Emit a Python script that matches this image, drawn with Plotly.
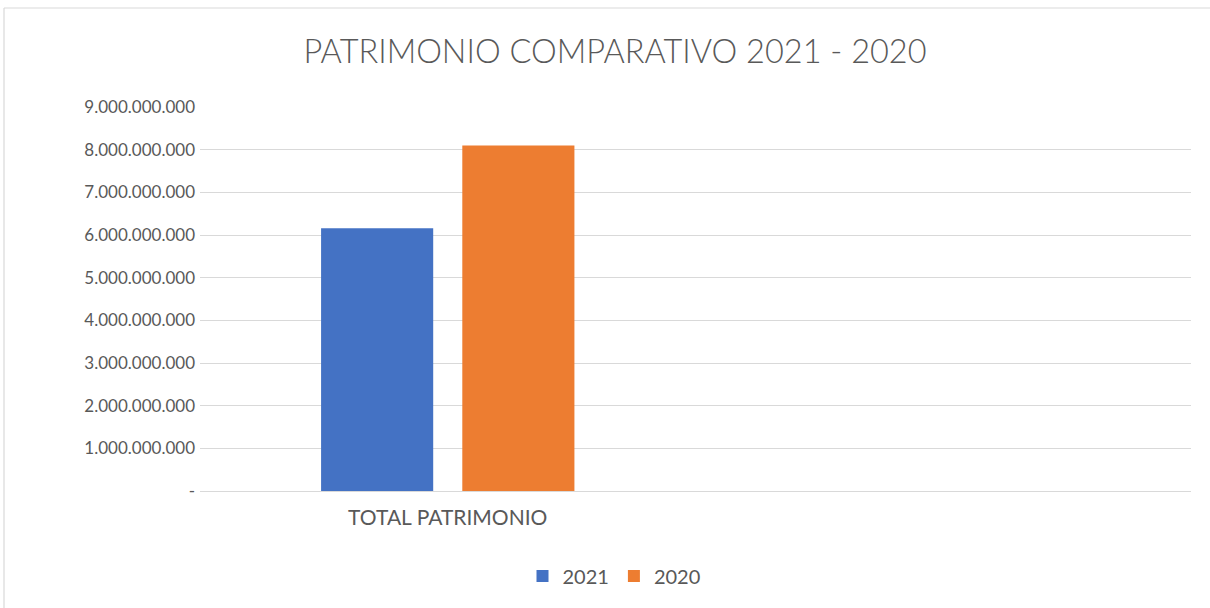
import plotly.graph_objects as go

categories = ["TOTAL PATRIMONIO", " "]
series_names = ["2021", "2020"]
values_2021 = [6.16e9, None]
values_2020 = [8.10e9, None]
tick_values = [0, 1e9, 2e9, 3e9, 4e9, 5e9, 6e9, 7e9, 8e9, 9e9]
tick_labels = ["-", "1.000.000.000", "2.000.000.000", "3.000.000.000", "4.000.000.000",
               "5.000.000.000", "6.000.000.000", "7.000.000.000", "8.000.000.000", "9.000.000.000"]

colors = ["#4472C4", "#ED7D31"]
font_family = "Lato, 'Open Sans', sans-serif"

fig = go.Figure()
for name, vals, col in zip(series_names, [values_2021, values_2020], colors):
    fig.add_trace(go.Bar(x=categories, y=vals, name=name, marker=dict(color=col, line=dict(width=0))))

L, R, T, B = 200, 19, 107, 117
W, H = 1210, 608
pw, ph = W - L - R, H - T - B

def px_x(x):
    return (x - L) / pw

def px_y(y):
    return (H - B - y) / ph

fig.update_layout(
    width=W, height=H,
    margin=dict(l=L, r=R, t=T, b=B),
    paper_bgcolor="white", plot_bgcolor="white",
    barmode="group", bargap=0.43, bargroupgap=0.206,
    title=dict(text="PATRIMONIO COMPARATIVO 2021 - 2020", x=615 / W, xanchor="center",
               y=1 - 52 / H, yanchor="middle",
               font=dict(family=font_family, size=32.5, color="#595959", weight=300)),
    font=dict(family=font_family, color="#595959"),
    legend=dict(orientation="h", x=px_x(614), xanchor="center", y=px_y(576), yanchor="middle",
                font=dict(size=20, color="#595959"), itemwidth=30, traceorder="normal"),
    xaxis=dict(categoryorder="array", categoryarray=categories, showgrid=False, showline=False,
               ticks="", tickfont=dict(size=21, color="#595959"), ticklabelstandoff=12),
    yaxis=dict(range=[0, 9e9], tickvals=tick_values, ticktext=tick_labels, showgrid=True,
               gridcolor="#D9D9D9", gridwidth=1.3, zeroline=True, zerolinecolor="#D9D9D9",
               zerolinewidth=1.3, showline=False, ticks="",
               tickfont=dict(size=17, color="#595959"), ticklabelstandoff=4),
    shapes=[
        dict(type="line", xref="paper", yref="paper", x0=px_x(4), x1=px_x(1215), y0=px_y(8), y1=px_y(8),
             line=dict(color="#D9D9D9", width=1.2)),
        dict(type="line", xref="paper", yref="paper", x0=px_x(4), x1=px_x(4), y0=px_y(8), y1=px_y(612),
             line=dict(color="#D9D9D9", width=1.2)),
    ],
)

fig.write_html("out.html", config={"displayModeBar": False},
               post_script="document.body.style.margin='0';document.body.style.overflow='hidden';")
